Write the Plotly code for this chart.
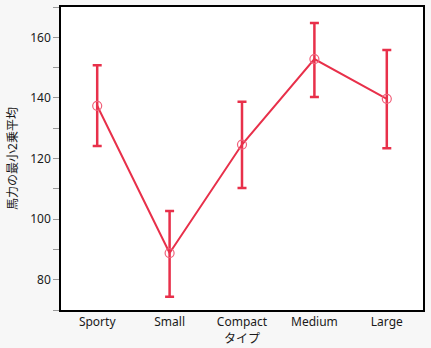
import plotly.graph_objects as go

categories = ["Sporty", "Small", "Compact", "Medium", "Large"]
means = [137.4, 88.8, 124.6, 152.8, 139.7]
upper = [150.8, 102.7, 138.7, 164.7, 155.8]
lower = [124.1, 74.4, 110.3, 140.3, 123.4]

err_plus = [u - m for u, m in zip(upper, means)]
err_minus = [m - l for m, l in zip(means, lower)]

xs = list(range(len(categories)))
red = "#E8304A"
font_fam = "Noto Sans, Noto Sans CJK JP, sans-serif"

fig = go.Figure()
fig.add_trace(go.Scatter(
    x=xs, y=means, mode="lines",
    line=dict(color=red, width=2),
    error_y=dict(type="data", symmetric=False, array=err_plus, arrayminus=err_minus,
                 color=red, thickness=2.5, width=4.5),
    hoverinfo="skip", showlegend=False,
))
fig.add_trace(go.Scatter(
    x=xs, y=means, mode="markers",
    marker=dict(symbol="circle-open", size=9, color="#F0607A", line=dict(width=1.2)),
    showlegend=False,
))

fig.update_layout(
    width=431, height=348,
    margin=dict(l=61, r=8, t=5, b=38),
    paper_bgcolor="#F7F7F7", plot_bgcolor="#FFFFFF",
    font=dict(family=font_fam, size=12, color="#1a1a1a"),
)
fig.update_xaxes(
    range=[-0.5, 4.5], tickmode="array", tickvals=xs, ticktext=categories,
    showgrid=False, zeroline=False, showline=True, linecolor="black", linewidth=1.5,
    mirror=True, ticks="", tickfont=dict(size=12),
    title=dict(text="タイプ", font=dict(size=12), standoff=2),
)
fig.update_yaxes(
    range=[70, 170], tickmode="linear", tick0=80, dtick=20,
    showgrid=False, zeroline=False, showline=True, linecolor="black", linewidth=1.5,
    mirror=True, ticks="outside", ticklen=6, tickcolor="#999999", tickwidth=1,
    minor=dict(dtick=10, tick0=70, ticks="outside", ticklen=6, tickcolor="#999999", tickwidth=1),
    tickfont=dict(size=12),
    title=dict(text="馬力の最小2乗平均", font=dict(size=12), standoff=10),
)

fig.write_html("out.html")
